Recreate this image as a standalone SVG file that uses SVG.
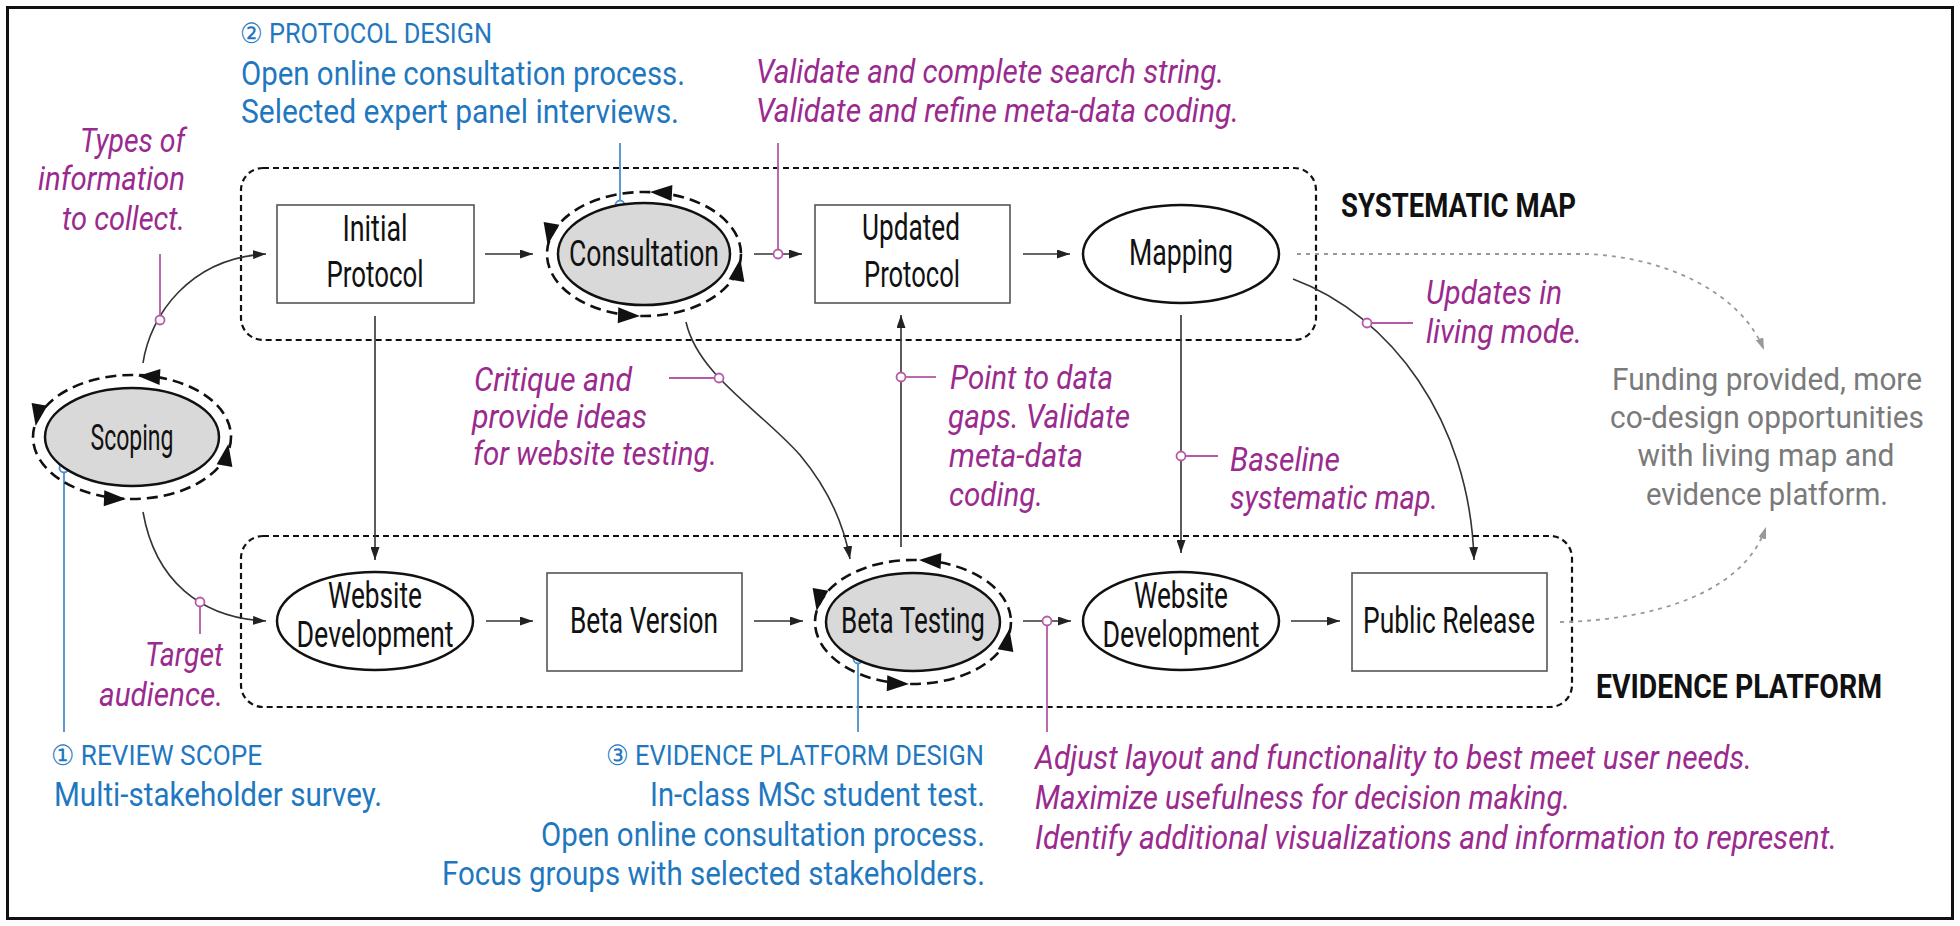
<svg xmlns="http://www.w3.org/2000/svg" width="1960" height="926" viewBox="0 0 1960 926">
<style>
text{font-family:"Liberation Sans Narrow","Roboto","Liberation Sans",sans-serif;}
.lbl{font-size:36px;fill:#111;text-anchor:middle;}
.mag{font-size:33px;fill:#9a2a8e;font-style:italic;}
.blu{font-size:34px;fill:#1f78bf;}
.bluh{font-size:28px;fill:#1f78bf;}
.gry{font-size:31px;fill:#7a7a7a;text-anchor:middle;}
.bold{font-size:34px;font-weight:bold;fill:#111;}
.box{fill:#fff;stroke:#555;stroke-width:1.6;}
.ell{fill:#fff;stroke:#111;stroke-width:2.5;}
.gell{fill:#d9d9d9;stroke:#111;stroke-width:2.5;}
.cyc{fill:none;stroke:#111;stroke-width:2.6;stroke-dasharray:11,6;}
.grp{fill:none;stroke:#111;stroke-width:2.2;stroke-dasharray:6,4;}
.con{fill:none;stroke:#333;stroke-width:1.6;}
.gcon{fill:none;stroke:#999;stroke-width:1.8;stroke-dasharray:4,5;}
.mline{fill:none;stroke:#b55aa8;stroke-width:1.8;}
.bline{fill:none;stroke:#4a8fcf;stroke-width:1.8;}
.mdot{fill:#fff;stroke:#b55aa8;stroke-width:1.8;}
.bdot{fill:#fff;stroke:#4a8fcf;stroke-width:1.8;}
.tri{fill:#111;}
</style>
<defs>
<marker id="ah" viewBox="0 0 13 9" refX="13" refY="4.5" markerWidth="13" markerHeight="9" orient="auto" markerUnits="userSpaceOnUse"><path d="M0,0 L13,4.5 L0,9 Z" fill="#222"/></marker>
<marker id="gah" viewBox="0 0 12 8" refX="12" refY="4" markerWidth="12" markerHeight="8" orient="auto" markerUnits="userSpaceOnUse"><path d="M0,0 L12,4 L0,8 Z" fill="#999"/></marker>
<path id="cyctri" d="M2,0 L-20,-8 L-20,8 Z"/>
</defs>
<rect width="1960" height="926" fill="#fff"/>
<rect x="7.5" y="7.5" width="1945" height="911" fill="none" stroke="#111" stroke-width="3"/>

<g id="group-systematic-map">
<rect class="grp" x="241" y="168" width="1075" height="172" rx="22"/>
<text class="bold" x="1341" y="217" textLength="235" lengthAdjust="spacingAndGlyphs">SYSTEMATIC MAP</text>
</g>
<g id="group-evidence-platform">
<rect class="grp" x="241" y="536" width="1331" height="171" rx="22"/>
<text class="bold" x="1596" y="698" textLength="286" lengthAdjust="spacingAndGlyphs">EVIDENCE PLATFORM</text>
</g>

<g id="connectors">
<path class="con" d="M143,363 C150,315 190,258 266,254" marker-end="url(#ah)"/>
<path class="con" d="M143,512 C155,580 200,618 266,621" marker-end="url(#ah)"/>
<path class="con" d="M485,254 L533,254" marker-end="url(#ah)"/>
<path class="con" d="M754,254 L802,254" marker-end="url(#ah)"/>
<path class="con" d="M1023,254 L1070,254" marker-end="url(#ah)"/>
<path class="con" d="M375,316 L375,560" marker-end="url(#ah)"/>
<path class="con" d="M486,621 L533,621" marker-end="url(#ah)"/>
<path class="con" d="M754,621 L803,621" marker-end="url(#ah)"/>
<path class="con" d="M1023,621 L1071,621" marker-end="url(#ah)"/>
<path class="con" d="M1291,621 L1340,621" marker-end="url(#ah)"/>
<path class="con" d="M901,547 L901,315" marker-end="url(#ah)"/>
<path class="con" d="M1181,315 L1181,553" marker-end="url(#ah)"/>
<path class="con" d="M686,322 C698,375 760,410 800,455 C825,485 843,520 850,559" marker-end="url(#ah)"/>
<path class="con" d="M1293,279 C1390,315 1470,420 1474,560" marker-end="url(#ah)"/>
<path class="gcon" d="M1297,254 L1585,254 C1660,256 1740,290 1764,350" marker-end="url(#gah)"/>
<path class="gcon" d="M1560,622 C1660,620 1745,590 1766,527" marker-end="url(#gah)"/>
</g>

<g id="annotation-lines">
<path class="mline" d="M160,254 L160,316"/>
<circle class="mdot" cx="160" cy="320" r="4.5"/>
<path class="mline" d="M200,607 L200,634"/>
<circle class="mdot" cx="200" cy="602" r="4.5"/>
<path class="mline" d="M778,143 L778,250"/>
<circle class="mdot" cx="778" cy="254" r="4.5"/>
<path class="mline" d="M669,378 L715,378"/>
<circle class="mdot" cx="719" cy="378" r="4.5"/>
<path class="mline" d="M905,377 L936,377"/>
<circle class="mdot" cx="901" cy="377" r="4.5"/>
<path class="mline" d="M1185,456 L1218,456"/>
<circle class="mdot" cx="1181" cy="456" r="4.5"/>
<path class="mline" d="M1371,323 L1413,323"/>
<circle class="mdot" cx="1367" cy="323" r="4.5"/>
<path class="mline" d="M1047,626 L1047,732"/>
<circle class="mdot" cx="1047" cy="621" r="4.5"/>
<path class="bline" d="M620,143 L620,201"/>
<circle class="bdot" cx="620" cy="205" r="4.5"/>
<path class="bline" d="M64,472 L64,732"/>
<circle class="bdot" cx="64" cy="468" r="4.5"/>
<path class="bline" d="M858,663 L858,732"/>
<circle class="bdot" cx="858" cy="659" r="4.5"/>
</g>

<g id="node-scoping">
<ellipse class="cyc" cx="132" cy="437" rx="99" ry="62"/>
<ellipse class="gell" cx="132" cy="437" rx="87" ry="49"/>
<use href="#cyctri" class="tri" transform="translate(140,376) rotate(183)"/>
<use href="#cyctri" class="tri" transform="translate(36,424) rotate(100)"/>
<use href="#cyctri" class="tri" transform="translate(124,499) rotate(2)"/>
<use href="#cyctri" class="tri" transform="translate(228,446) rotate(-80)"/>
<text class="lbl" x="132" y="450" textLength="83" lengthAdjust="spacingAndGlyphs">Scoping</text>
</g>

<g id="node-initial-protocol">
<rect class="box" x="277" y="205" width="197" height="98"/>
<text class="lbl" x="375" y="241" textLength="65" lengthAdjust="spacingAndGlyphs">Initial</text>
<text class="lbl" x="375" y="287" textLength="97" lengthAdjust="spacingAndGlyphs">Protocol</text>
</g>

<g id="node-consultation">
<ellipse class="cyc" cx="644" cy="254" rx="97" ry="62"/>
<ellipse class="gell" cx="644" cy="254" rx="86" ry="51"/>
<use href="#cyctri" class="tri" transform="translate(652,192) rotate(183)"/>
<use href="#cyctri" class="tri" transform="translate(548,243) rotate(100)"/>
<use href="#cyctri" class="tri" transform="translate(638,316) rotate(2)"/>
<use href="#cyctri" class="tri" transform="translate(740,261) rotate(-80)"/>
<text class="lbl" x="644" y="266" textLength="150" lengthAdjust="spacingAndGlyphs">Consultation</text>
</g>

<g id="node-updated-protocol">
<rect class="box" x="815" y="205" width="195" height="98"/>
<text class="lbl" x="911" y="240" textLength="98" lengthAdjust="spacingAndGlyphs">Updated</text>
<text class="lbl" x="912" y="287" textLength="96" lengthAdjust="spacingAndGlyphs">Protocol</text>
</g>

<g id="node-mapping">
<ellipse class="ell" cx="1181" cy="254" rx="98" ry="49"/>
<text class="lbl" x="1181" y="265" textLength="104" lengthAdjust="spacingAndGlyphs">Mapping</text>
</g>

<g id="node-website-development-1">
<ellipse class="ell" cx="375" cy="621" rx="98" ry="49"/>
<text class="lbl" x="375" y="608" textLength="94" lengthAdjust="spacingAndGlyphs">Website</text>
<text class="lbl" x="375" y="647" textLength="157" lengthAdjust="spacingAndGlyphs">Development</text>
</g>

<g id="node-beta-version">
<rect class="box" x="547" y="573" width="195" height="98"/>
<text class="lbl" x="644" y="633" textLength="148" lengthAdjust="spacingAndGlyphs">Beta Version</text>
</g>

<g id="node-beta-testing">
<ellipse class="cyc" cx="913" cy="622" rx="98" ry="62"/>
<ellipse class="gell" cx="913" cy="622" rx="87" ry="49"/>
<use href="#cyctri" class="tri" transform="translate(921,560) rotate(183)"/>
<use href="#cyctri" class="tri" transform="translate(817,609) rotate(100)"/>
<use href="#cyctri" class="tri" transform="translate(907,684) rotate(2)"/>
<use href="#cyctri" class="tri" transform="translate(1009,631) rotate(-80)"/>
<text class="lbl" x="913" y="633" textLength="144" lengthAdjust="spacingAndGlyphs">Beta Testing</text>
</g>

<g id="node-website-development-2">
<ellipse class="ell" cx="1181" cy="621" rx="98" ry="49"/>
<text class="lbl" x="1181" y="608" textLength="94" lengthAdjust="spacingAndGlyphs">Website</text>
<text class="lbl" x="1181" y="647" textLength="157" lengthAdjust="spacingAndGlyphs">Development</text>
</g>

<g id="node-public-release">
<rect class="box" x="1352" y="573" width="195" height="98"/>
<text class="lbl" x="1449" y="633" textLength="172" lengthAdjust="spacingAndGlyphs">Public Release</text>
</g>

<g id="labels-magenta">
<text class="mag" x="185" y="152" text-anchor="end" textLength="105" lengthAdjust="spacingAndGlyphs">Types of</text>
<text class="mag" x="185" y="190" text-anchor="end" textLength="147" lengthAdjust="spacingAndGlyphs">information</text>
<text class="mag" x="185" y="230" text-anchor="end" textLength="123" lengthAdjust="spacingAndGlyphs">to collect.</text>
<text class="mag" x="223" y="666" text-anchor="end" textLength="78" lengthAdjust="spacingAndGlyphs">Target</text>
<text class="mag" x="223" y="706" text-anchor="end" textLength="124" lengthAdjust="spacingAndGlyphs">audience.</text>
<text class="mag" x="756" y="83" textLength="468" lengthAdjust="spacingAndGlyphs">Validate and complete search string.</text>
<text class="mag" x="756" y="122" textLength="483" lengthAdjust="spacingAndGlyphs">Validate and refine meta-data coding.</text>
<text class="mag" x="474" y="391" textLength="158" lengthAdjust="spacingAndGlyphs">Critique and</text>
<text class="mag" x="472" y="428" textLength="175" lengthAdjust="spacingAndGlyphs">provide ideas</text>
<text class="mag" x="473" y="465" textLength="244" lengthAdjust="spacingAndGlyphs">for website testing.</text>
<text class="mag" x="950" y="389" textLength="163" lengthAdjust="spacingAndGlyphs">Point to data</text>
<text class="mag" x="948" y="428" textLength="182" lengthAdjust="spacingAndGlyphs">gaps. Validate</text>
<text class="mag" x="949" y="467" textLength="134" lengthAdjust="spacingAndGlyphs">meta-data</text>
<text class="mag" x="949" y="506" textLength="94" lengthAdjust="spacingAndGlyphs">coding.</text>
<text class="mag" x="1230" y="471" textLength="110" lengthAdjust="spacingAndGlyphs">Baseline</text>
<text class="mag" x="1230" y="509" textLength="208" lengthAdjust="spacingAndGlyphs">systematic map.</text>
<text class="mag" x="1426" y="304" textLength="136" lengthAdjust="spacingAndGlyphs">Updates in</text>
<text class="mag" x="1426" y="343" textLength="156" lengthAdjust="spacingAndGlyphs">living mode.</text>
<text class="mag" x="1035" y="769" textLength="717" lengthAdjust="spacingAndGlyphs">Adjust layout and functionality to best meet user needs.</text>
<text class="mag" x="1035" y="809" textLength="535" lengthAdjust="spacingAndGlyphs">Maximize usefulness for decision making.</text>
<text class="mag" x="1035" y="849" textLength="802" lengthAdjust="spacingAndGlyphs">Identify additional visualizations and information to represent.</text>
</g>

<g id="labels-blue">
<text class="bluh" x="240" y="43" textLength="252" lengthAdjust="spacingAndGlyphs">② PROTOCOL DESIGN</text>
<text class="blu" x="241" y="85" textLength="444" lengthAdjust="spacingAndGlyphs">Open online consultation process.</text>
<text class="blu" x="241" y="123" textLength="438" lengthAdjust="spacingAndGlyphs">Selected expert panel interviews.</text>
<text class="bluh" x="51" y="765" textLength="211" lengthAdjust="spacingAndGlyphs">① REVIEW SCOPE</text>
<text class="blu" x="54" y="806" textLength="328" lengthAdjust="spacingAndGlyphs">Multi-stakeholder survey.</text>
<text class="bluh" x="984" y="765" text-anchor="end" textLength="378" lengthAdjust="spacingAndGlyphs">③ EVIDENCE PLATFORM DESIGN</text>
<text class="blu" x="985" y="806" text-anchor="end" textLength="335" lengthAdjust="spacingAndGlyphs">In-class MSc student test.</text>
<text class="blu" x="985" y="846" text-anchor="end" textLength="444" lengthAdjust="spacingAndGlyphs">Open online consultation process.</text>
<text class="blu" x="985" y="885" text-anchor="end" textLength="543" lengthAdjust="spacingAndGlyphs">Focus groups with selected stakeholders.</text>
</g>

<g id="label-funding">
<text class="gry" x="1767" y="390" textLength="310" lengthAdjust="spacingAndGlyphs">Funding provided, more</text>
<text class="gry" x="1767" y="428" textLength="314" lengthAdjust="spacingAndGlyphs">co-design opportunities</text>
<text class="gry" x="1766" y="466" textLength="257" lengthAdjust="spacingAndGlyphs">with living map and</text>
<text class="gry" x="1767" y="505" textLength="242" lengthAdjust="spacingAndGlyphs">evidence platform.</text>
</g>
</svg>
